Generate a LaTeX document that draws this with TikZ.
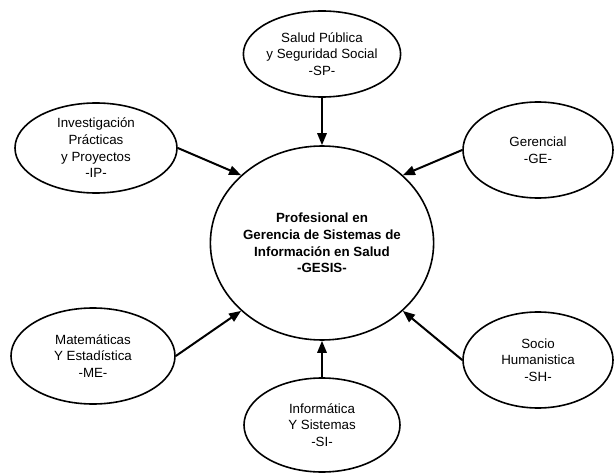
\documentclass[tikz,border=0pt]{standalone}
\usepackage{fontspec}
\setmainfont{Liberation Sans}
\usetikzlibrary{shapes.geometric,arrows.meta}
\begin{document}
\begin{tikzpicture}[x=0.75pt, y=-0.75pt,
    area/.style={draw, ellipse, line width=1.2pt, inner sep=0pt, align=center,
        font=\fontsize{10}{12.5}\selectfont},
    core/.style={area, font=\fontsize{10}{12.5}\selectfont\bfseries},
    arr/.style={line width=1.5pt, -{Triangle[length=9pt, width=7pt]}}]
    \useasboundingbox (0, 0) rectangle (614, 474);
    % sizes in pt (1 px = 0.75pt)
    \node[core, minimum width=165pt, minimum height=145.5pt] (gesis) at (322, 243)
        {Profesional en\\Gerencia de Sistemas de\\Información en Salud\\-GESIS-};
    \node[area, minimum width=114pt, minimum height=64.5pt] (sp) at (322, 54)
        {Salud Pública\\y Seguridad Social\\-SP-};
    \node[area, minimum width=121.5pt, minimum height=67.5pt] (ip) at (96, 148)
        {Investigación\\Prácticas\\y Proyectos\\-IP-};
    \node[area, minimum width=112.5pt, minimum height=72pt] (ge) at (538, 150)
        {Gerencial\\-GE-};
    \node[area, minimum width=123pt, minimum height=72pt] (me) at (93, 356)
        {Matemáticas\\Y Estadística\\-ME-};
    \node[area, minimum width=112.5pt, minimum height=72pt] (sh) at (538, 360)
        {Socio\\Humanistica\\-SH-};
    \node[area, minimum width=117pt, minimum height=70.5pt] (si) at (322, 425)
        {Informática\\Y Sistemas\\-SI-};
    \draw[arr] (sp.south) -- (gesis.north);
    \draw[arr] (ip.east) -- (gesis.140);
    \draw[arr] (ge.west) -- (gesis.40);
    \draw[arr] (me.east) -- (gesis.220);
    \draw[arr] (sh.west) -- (gesis.320);
    \draw[arr] (si.north) -- (gesis.south);
\end{tikzpicture}
\end{document}
